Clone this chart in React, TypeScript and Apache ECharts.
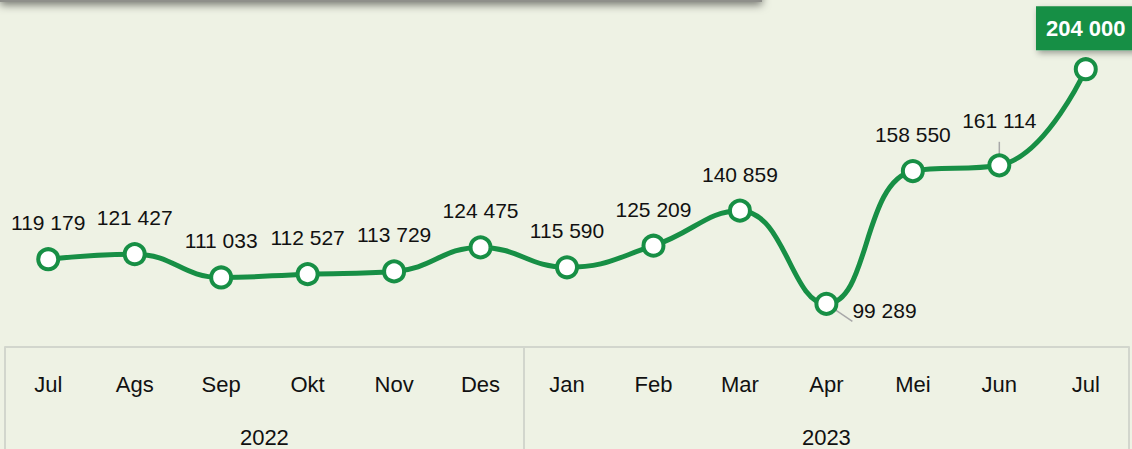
import React, { useEffect, useRef } from 'react';
import * as echarts from 'echarts';

const months = ['Jul', 'Ags', 'Sep', 'Okt', 'Nov', 'Des', 'Jan', 'Feb', 'Mar', 'Apr', 'Mei', 'Jun', 'Jul'];
const values = [119179, 121427, 111033, 112527, 113729, 124475, 115590, 125209, 140859, 99289, 158550, 161114, 204000];
const years = ['2022', '2023'];
const yearStart = [0, 6];
const yearEnd = [5, 12];

const GREEN = '#178f45';
const BG = '#eef2e4';
const BORDER = '#d2d6cd';
const FONT = "'Liberation Sans Narrow', 'Arial Narrow', 'Liberation Sans', Arial, sans-serif";

const fmt = (v: number) => String(v).replace(/\B(?=(\d{3})+(?!\d))/g, ' ');

export default function App() {
  const ref = useRef<HTMLDivElement>(null);
  useEffect(() => {
    if (!ref.current) return;
    const chart = echarts.init(ref.current, null, { renderer: 'svg' });
    const last = values.length - 1;
    const data = values.map((v, i) => {
      const item: any = { value: v };
      if (i === 9) {
        item.label = { position: 'right', distance: 14, offset: [0, 7] };
        item.labelLine = { show: true, lineStyle: { color: '#a8a8a8', width: 1.5 } };
      }
      if (i === 11) {
        item.label = { position: 'top', distance: 22 };
        item.labelLine = { show: true, lineStyle: { color: '#a8a8a8', width: 1.5 } };
      }
      if (i === last) {
        item.label = {
          position: 'top',
          distance: 7,
          color: '#ffffff',
          fontWeight: 'bold',
          fontSize: 22,
          backgroundColor: GREEN,
          padding: [11, 10, 11, 10],
          shadowBlur: 6,
          shadowOffsetX: 2,
          shadowOffsetY: 3,
          shadowColor: 'rgba(0,0,0,0.35)',
        };
      }
      return item;
    });
    const dividers = [yearStart[0] - 0.5, ...yearEnd.map((e) => e + 0.5)];
    const yearCenters = yearStart.map((s, i) => (s + yearEnd[i]) / 2);
    chart.setOption({
      animation: false,
      backgroundColor: BG,
      grid: { left: 5, right: 3, top: 11, bottom: 102 },
      xAxis: [
        {
          type: 'category',
          data: months,
          boundaryGap: true,
          axisLine: { show: false },
          axisTick: { show: false },
          axisLabel: { fontSize: 22, color: '#111', margin: 26, fontFamily: FONT },
        },
        {
          type: 'value',
          position: 'bottom',
          min: -0.5,
          max: 12.5,
          splitLine: { show: false },
          axisLine: { show: true, lineStyle: { color: BORDER, width: 2 } },
          axisTick: {
            show: true,
            customValues: dividers,
            length: 110,
            lineStyle: { color: BORDER, width: 2 },
          },
          axisLabel: {
            customValues: yearCenters,
            formatter: (v: number) => years[yearCenters.indexOf(v)] ?? '',
            fontSize: 22,
            color: '#111',
            margin: 79,
            fontFamily: FONT,
          },
        },
      ],
      yAxis: { type: 'value', min: 80000, max: 230000, show: false },
      graphic: [
        {
          type: 'rect',
          shape: { x: 0, y: -24, width: 762, height: 26 },
          style: {
            fill: '#8e8f8a',
            shadowBlur: 8,
            shadowOffsetY: 3,
            shadowColor: 'rgba(0,0,0,0.5)',
          },
        },
      ],
      series: [
        {
          type: 'line',
          xAxisIndex: 0,
          yAxisIndex: 0,
          data,
          smooth: 0.45,
          symbol: 'circle',
          symbolSize: 20,
          lineStyle: { color: GREEN, width: 5 },
          itemStyle: { color: '#ffffff', borderColor: GREEN, borderWidth: 4 },
          label: {
            show: true,
            position: 'top',
            distance: 14,
            fontSize: 21,
            color: '#111',
            fontFamily: FONT,
            formatter: (p: any) => fmt(p.value),
          },
          labelLine: { show: false },
          z: 3,
        },
      ],
    });
    return () => chart.dispose();
  }, []);
  return (
    <div
      ref={ref}
      style={{ position: 'fixed', left: 0, top: 0, width: 1132, height: 449 }}
    />
  );
}
